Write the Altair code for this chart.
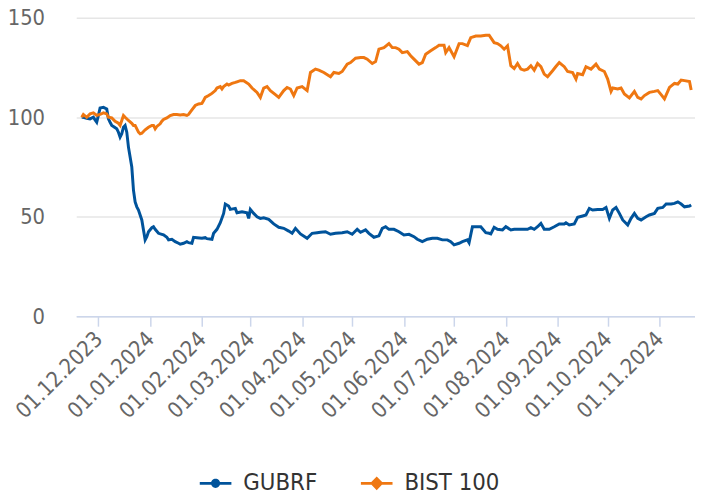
import altair as alt
import pandas as pd

series_names = ["GUBRF", "BIST 100"]
series_colors = ["#00539b", "#ef7711"]
start_date = "2023-11-21"

gubrf_days = [0, 1, 3, 5, 7, 8, 9, 10, 11, 13, 15, 16, 17, 18, 19, 21, 22, 23, 24, 25, 26, 27, 28, 30,
              31, 32, 33, 34, 36, 37, 38, 39, 40, 42, 43, 44, 46, 48, 49, 51, 52, 54, 56, 58, 59, 61,
              63, 64, 66, 67, 69, 72, 74, 75, 78, 79, 81, 83, 85, 86, 88, 89, 92, 93, 96, 99, 100, 101,
              103, 105, 107, 109, 112, 115, 118, 121, 124, 126, 128, 131, 135, 138, 141, 143, 146, 149,
              152, 156, 159, 162, 165, 167, 170, 172, 175, 178, 180, 182, 184, 187, 190, 193, 196, 199,
              201, 204, 207, 210, 213, 216, 219, 221, 223, 226, 228, 231, 232, 234, 236, 239, 242, 244,
              245, 247, 249, 252, 254, 257, 259, 263, 267, 269, 271, 273, 275, 277, 280, 283, 286, 289,
              290, 292, 295, 297, 300, 302, 304, 306, 309, 312, 314, 316, 318, 320, 322, 324, 327, 329,
              331, 333, 335, 338, 340, 343, 345, 348, 350, 353, 355, 357, 359, 361, 364, 365]
gubrf_vals = [100, 100, 99.5, 99.2, 100, 98.7, 97.5, 100.9, 104.7, 105, 104.2, 99.2, 97.5, 95.9, 95.4,
              94.2, 92.5, 90, 91.7, 95, 95.9, 92.5, 85, 75, 63.4, 57.5, 55, 53.4, 48.4, 43.4, 38.4, 40,
              42.5, 44.5, 45, 43.7, 41.7, 41.2, 40.9, 39.7, 38.4, 38.7, 37.5, 36.7, 36.2, 36.7, 37.5, 37,
              36.7, 39.7, 39.5, 39.2, 39.5, 39, 38.7, 41.7, 43.7, 47, 51.7, 56.4, 55.4, 53.7, 54.2, 52,
              52.5, 52, 49.2, 53.7, 51.7, 50, 49.2, 49.5, 48.7, 46.4, 44.7, 44.2, 42.8, 41.7, 44.2, 41.4,
              39.2, 41.7, 42, 42.2, 42.5, 41.2, 41.7, 42, 42.5, 41.2, 43.7, 42.2, 43.4, 41.7, 39.7, 40.4,
              44.2, 45, 43.7, 43.7, 42.5, 40.9, 41.2, 40, 38.7, 37.5, 38.7, 39.2, 39.2, 38.4, 38.4, 37.5,
              35.9, 36.7, 37.5, 38.4, 37, 45, 45, 45, 42, 41.7, 41.4, 44.7, 43.7, 43.4, 45, 43.4, 43.7,
              43.7, 43.7, 44.5, 43.7, 45, 46.7, 43.7, 43.7, 45, 46.4, 46.4, 47, 45.9, 46.4, 49.7, 50.4,
              50.9, 54.2, 53.4, 53.7, 53.7, 54.7, 49.2, 53.4, 54.7, 51.7, 48.4, 45.9, 49.2, 51.7, 49.2,
              48.4, 50, 50.9, 51.7, 54.2, 54.7, 56.4, 56.4, 56.7, 57.5, 56.4, 55, 55.4, 55.9]

bist_days = [0, 1, 3, 5, 7, 9, 11, 13, 15, 16, 18, 20, 22, 23, 24, 25, 26, 28, 30, 31, 32, 34, 35, 36,
             38, 40, 42, 43, 44, 45, 47, 48, 49, 51, 53, 55, 57, 59, 61, 63, 64, 66, 68, 70, 72, 73, 74,
             76, 78, 80, 81, 83, 84, 85, 87, 88, 90, 92, 93, 95, 97, 100, 102, 105, 107, 109, 111, 113,
             116, 118, 121, 123, 125, 127, 129, 132, 135, 137, 140, 142, 145, 149, 151, 154, 156, 159,
             161, 164, 167, 169, 171, 174, 176, 178, 181, 184, 186, 188, 190, 192, 195, 197, 199, 202,
             204, 206, 209, 212, 214, 217, 218, 220, 223, 226, 228, 231, 233, 236, 239, 242, 244, 247,
             249, 251, 253, 255, 257, 259, 261, 263, 265, 267, 269, 271, 273, 275, 277, 279, 282, 284,
             286, 289, 291, 294, 296, 297, 300, 302, 305, 308, 310, 313, 315, 317, 318, 321, 323, 325,
             328, 331, 333, 335, 337, 340, 343, 345, 347, 349, 352, 355, 357, 359, 361, 364, 365]
bist_vals = [100, 101.4, 100, 101.7, 102.2, 100.9, 101.4, 102.2, 101.7, 100, 99.7, 98, 97, 95.9, 98.4,
             100.9, 100, 98.4, 97, 95.9, 95.9, 92.5, 91.7, 92, 93.7, 95, 95.9, 95.9, 94.2, 95.4, 96.7,
             98, 98.9, 99.7, 100.9, 101.4, 101.4, 101.2, 101.4, 100.9, 101.4, 103.7, 105.9, 106.7, 107,
             108.4, 110, 110.9, 112, 113.4, 114.7, 115.4, 114.2, 115.4, 116.7, 116.2, 117, 117.5, 117.8,
             118.4, 118.4, 116.7, 114.7, 112.5, 110, 114.7, 115.4, 113.4, 111.4, 110, 113.4, 115, 114.2,
             110.9, 114.7, 115.4, 113.4, 122.5, 124.2, 123.7, 122.5, 120.4, 122.5, 122, 123, 126.7,
             127.5, 129.7, 130, 130, 129.2, 127, 128, 134.2, 135, 137, 135, 135, 134.2, 132.5, 133,
             130.9, 129.2, 126.7, 127.5, 131.7, 133.4, 135, 136.2, 136.2, 132.5, 135, 130.4, 137, 137,
             136, 140, 140.8, 140.8, 141.2, 141.2, 137.5, 137, 135.9, 134.2, 135.9, 125.9, 124.5, 127,
             124.2, 123.7, 124.2, 125.9, 123.7, 127, 125.4, 121.7, 120.4, 123.4, 125.5, 127.5, 125.4,
             123, 122.5, 119.2, 122, 121.4, 125.4, 124.2, 126.7, 124.2, 123, 119.2, 113, 114.7, 114.2,
             114.7, 111.7, 109.7, 113, 110, 109.2, 110.9, 112.5, 113, 113.4, 111.4, 109.2, 115, 117,
             116.7, 118.7, 118.4, 118, 113.7]

y_ticks = [0, 50, 100, 150]
x_tick_months = [(2023, 12), (2024, 1), (2024, 2), (2024, 3), (2024, 4), (2024, 5), (2024, 6),
                 (2024, 7), (2024, 8), (2024, 9), (2024, 10), (2024, 11)]


def build(name, days, vals):
    dates = pd.Timestamp(start_date) + pd.to_timedelta(days, unit="D")
    return pd.DataFrame({"date": dates.strftime("%Y-%m-%dT00:00:00"), "value": vals, "series": name})


df = pd.concat([build(series_names[0], gubrf_days, gubrf_vals),
                build(series_names[1], bist_days, bist_vals)], ignore_index=True)

circle_sym = ("M-1,-0.085L1,-0.085L1,0.085L-1,0.085Z "
              "M-0.29,0A0.29,0.29 0 1,1 0.29,0A0.29,0.29 0 1,1 -0.29,0Z")
diamond_sym = ("M-1,-0.085L1,-0.085L1,0.085L-1,0.085Z "
               "M0,-0.44L0.42,0L0,0.44L-0.42,0Z")

x_enc = alt.X("date:T",
              scale=alt.Scale(domain=[alt.DateTime(year=2023, month=11, date=17, hours=17),
                                      alt.DateTime(year=2024, month=11, date=22, hours=7)]),
              axis=alt.Axis(values=[alt.DateTime(year=y, month=m, date=1) for y, m in x_tick_months],
                            format="%d.%m.%Y", labelAngle=-45, labelAlign="right",
                            labelBaseline="middle", labelFontSize=22, labelColor="#666666",
                            labelPadding=9, tickSize=10, tickColor="#ccd6eb", tickWidth=1.5,
                            domainColor="#ccd6eb", domainWidth=1.5, grid=False, title=None,
                            labelOverlap=False))
y_enc = alt.Y("value:Q", scale=alt.Scale(domain=[0, 150], nice=False),
              axis=alt.Axis(values=y_ticks, domain=False, ticks=False, grid=True,
                            gridColor="#e6e6e6", gridWidth=1.5, labelFontSize=22,
                            labelColor="#666666", labelPadding=32, title=None))
color_scale = alt.Scale(domain=series_names, range=series_colors)
shape_scale = alt.Scale(domain=series_names, range=[circle_sym, diamond_sym])

legend_def = alt.Legend(title=None, orient="none", legendX=125, legendY=455,
                        direction="horizontal", symbolSize=1024,
                        symbolOpacity=1, labelFontSize=24, labelColor="#333333", labelOffset=12,
                        columnPadding=44, symbolStrokeWidth=0)

lines = alt.Chart(df).mark_line(strokeWidth=3).encode(
    x=x_enc, y=y_enc,
    color=alt.Color("series:N", scale=color_scale, legend=legend_def),
)

legend_pts = alt.Chart(df).transform_filter("datum.value < -1000").mark_point(filled=True).encode(
    x=x_enc, y=y_enc,
    color=alt.Color("series:N", scale=color_scale, legend=legend_def),
    shape=alt.Shape("series:N", scale=shape_scale, legend=legend_def),
)

chart = alt.layer(lines, legend_pts).properties(
    width=626, height=302,
    autosize=alt.AutoSizeParams(type="none"),
    padding={"left": 69, "top": 7, "right": 0, "bottom": 185},
).configure(font="DejaVu Sans Condensed, DejaVu Sans").configure_view(stroke=None)

chart.save("out.html", embed_options={"renderer": "svg", "actions": False})
